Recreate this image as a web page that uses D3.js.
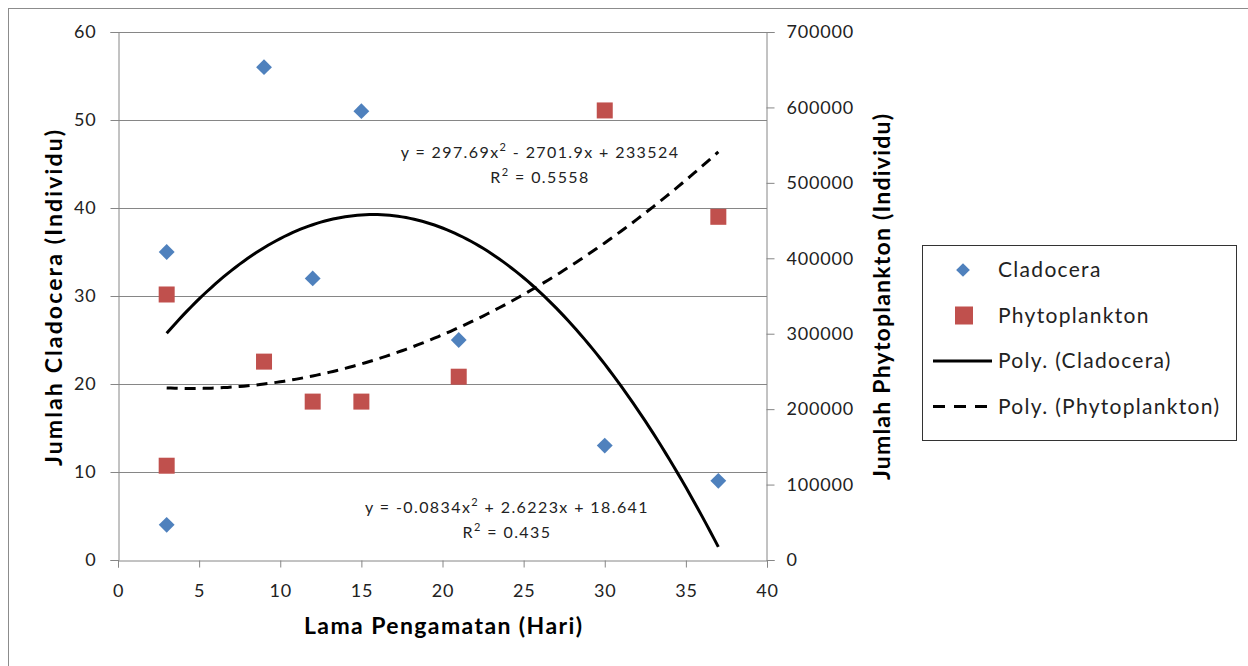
<!DOCTYPE html>
<meta charset="utf-8">
<script src="https://d3js.org/d3.v7.min.js"></script>
<style>
body { margin: 0; background: #fff; }
text { font-family: Lato, "Open Sans", sans-serif; fill: #000; }
</style>
<div id="chart"></div>
<script>
// observation days and counts
var days = [3, 3, 9, 12, 15, 21, 30, 37];
var cladocera = [35, 4, 56, 32, 51, 25, 13, 9];
var phytoDays = [3, 3, 9, 12, 15, 21, 30, 37];
var phyto = [352000, 125000, 263000, 210000, 210000, 243000, 596000, 455000];

// trendline coefficients as printed on the chart (a x^2 + b x + c)
var cladoFit = [-0.0834, 2.6223, 18.641];
var phytoFit = [297.69, -2701.9, 233524];

var xTicks = [0, 5, 10, 15, 20, 25, 30, 35, 40];
var yTicks = [0, 10, 20, 30, 40, 50, 60];
var y2Ticks = [0, 100000, 200000, 300000, 400000, 500000, 600000, 700000];

var W = 1248, H = 666;
var svg = d3.select("#chart").append("svg").attr("width", W).attr("height", H);

// outer chart frame
svg.append("rect").attr("x", 8.5).attr("y", 8.5).attr("width", W).attr("height", H)
  .style("fill", "none").style("stroke", "#8c8c8c");

var x = d3.scaleLinear().domain([0, 40]).range([118, 767]);
var y = d3.scaleLinear().domain([0, 60]).range([560, 32]);
var y2 = d3.scaleLinear().domain([0, 700000]).range([560, 32]);

// gridlines
svg.append("g").selectAll("line").data(yTicks.slice(1)).enter().append("line")
  .attr("x1", x(0)).attr("x2", x(40))
  .attr("y1", d => Math.round(y(d)) + 0.5).attr("y2", d => Math.round(y(d)) + 0.5)
  .style("stroke", "#868686");

var xAxis = svg.append("g").attr("transform", "translate(0,560.5)")
  .call(d3.axisBottom(x).tickValues(xTicks).tickSize(7).tickPadding(17));
var yAxis = svg.append("g").attr("transform", "translate(118.5,0)")
  .call(d3.axisLeft(y).tickValues(yTicks).tickSize(8).tickPadding(14));
var y2Axis = svg.append("g").attr("transform", "translate(766.5,0)")
  .call(d3.axisRight(y2).tickValues(y2Ticks).tickFormat(d3.format("d")).tickSize(8).tickPadding(12));

[xAxis, yAxis, y2Axis].forEach(function(a) {
  a.selectAll("path, line").style("stroke", "#868686");
  a.selectAll("text").style("font-size", "18px").style("fill", "#222")
    .style("letter-spacing", "0.8px")
    .style("font-family", "Lato, 'Open Sans', sans-serif");
});

// trendlines
function poly(c) { return function(v) { return c[0] * v * v + c[1] * v + c[2]; }; }
var xs = d3.range(3, 37.01, 0.25);
var fc = poly(cladoFit), fp = poly(phytoFit);

svg.append("path").datum(xs)
  .attr("d", d3.line().x(d => x(d)).y(d => y(fc(d))))
  .style("fill", "none").style("stroke", "#000").style("stroke-width", 3);
svg.append("path").datum(xs)
  .attr("d", d3.line().x(d => x(d)).y(d => y2(fp(d))))
  .style("fill", "none").style("stroke", "#000").style("stroke-width", 3)
  .style("stroke-dasharray", "11,7");

// markers
var diamond = d3.symbol().type(d3.symbolDiamond2).size(160);
svg.append("g").selectAll("path").data(days).enter().append("path")
  .attr("d", diamond)
  .attr("transform", (d, i) => "translate(" + x(d) + "," + y(cladocera[i]) + ")")
  .style("fill", "#4f81bd");

svg.append("g").selectAll("rect").data(phytoDays).enter().append("rect")
  .attr("x", d => x(d) - 8).attr("y", (d, i) => y2(phyto[i]) - 8)
  .attr("width", 16).attr("height", 16)
  .style("fill", "#c0504d");

// equations
function eq(cx, cy, pre, post, r2) {
  var t = svg.append("text").attr("x", cx).attr("y", cy).attr("text-anchor", "middle")
    .style("font-size", "16px").style("letter-spacing", "1.4px").style("fill", "#222");
  t.append("tspan").text(pre);
  t.append("tspan").text("2").attr("dy", -7).style("font-size", "11px");
  t.append("tspan").text(post).attr("dy", 7);
  var r = svg.append("text").attr("x", cx).attr("y", cy + 25).attr("text-anchor", "middle")
    .style("font-size", "16px").style("letter-spacing", "1.4px").style("fill", "#222");
  r.append("tspan").text("R");
  r.append("tspan").text("2").attr("dy", -7).style("font-size", "11px");
  r.append("tspan").text(" = " + r2).attr("dy", 7);
}
eq(540, 158, "y = 297.69x", " - 2701.9x + 233524", "0.5558");
eq(507, 513, "y = -0.0834x", " + 2.6223x + 18.641", "0.435");

// axis titles
svg.append("text").attr("x", 443).attr("y", 634).attr("text-anchor", "middle")
  .attr("textLength", 278).attr("lengthAdjust", "spacing")
  .style("font-size", "23px").style("font-weight", "bold").text("Lama Pengamatan (Hari)");
svg.append("text").attr("transform", "translate(62,298) rotate(-90)").attr("text-anchor", "middle")
  .attr("textLength", 336).attr("lengthAdjust", "spacing")
  .style("font-size", "23px").style("font-weight", "bold").text("Jumlah Cladocera (Individu)");
svg.append("text").attr("transform", "translate(890,297) rotate(-90)").attr("text-anchor", "middle")
  .attr("textLength", 366).attr("lengthAdjust", "spacing")
  .style("font-size", "23px").style("font-weight", "bold").text("Jumlah Phytoplankton (Individu)");

// legend
var legendItems = ["Cladocera", "Phytoplankton", "Poly. (Cladocera)", "Poly. (Phytoplankton)"];
var lg = svg.append("g");
lg.append("rect").attr("x", 922.5).attr("y", 245.5).attr("width", 314).attr("height", 195)
  .style("fill", "#fff").style("stroke", "#333");
legendItems.forEach(function(name, i) {
  var cy = 270 + i * 45.5;
  if (i === 0) lg.append("path").attr("d", d3.symbol().type(d3.symbolDiamond2).size(120))
    .attr("transform", "translate(963," + cy + ")").style("fill", "#4f81bd");
  if (i === 1) lg.append("rect").attr("x", 955).attr("y", cy - 9).attr("width", 18).attr("height", 18)
    .style("fill", "#c0504d");
  if (i >= 2) lg.append("line").attr("x1", 933).attr("x2", 992).attr("y1", cy).attr("y2", cy)
    .style("stroke", "#000").style("stroke-width", 3).style("stroke-dasharray", i === 3 ? "12,9" : null);
  lg.append("text").attr("x", 998).attr("y", cy + 7).style("font-size", "21px")
    .style("letter-spacing", "1.3px").style("fill", "#222").text(name);
});
</script>
